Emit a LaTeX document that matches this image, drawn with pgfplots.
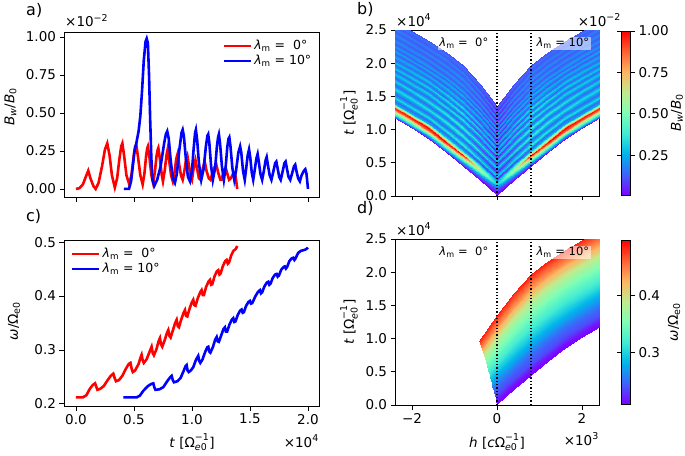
\documentclass[border=0pt]{standalone}
\usepackage{fontspec}
\setmainfont{DejaVu Sans}
\usepackage{amsmath}
\usepackage{pgfplots}
\usepackage{pgfplotstable}
\pgfplotsset{compat=1.18}

\newcommand\fTick{\fontsize{13.5}{16}\selectfont}
\newcommand\fLeg{\fontsize{12.5}{14}\selectfont}
\newcommand\fAnn{\fontsize{11.5}{13}\selectfont}
\newcommand\fPan{\fontsize{16}{18}\selectfont}
\newcommand\uinv{$\text{Ω}^{\text{−1}}_{\text{\itshape e}\text{0}}$}
\newcommand\lamm{\textit{λ}\textsubscript{m}}

\pgfplotsset{
  colormap={mplrainbow}{rgb=(0.5,0,1) rgb=(0.25,0.383,0.981) rgb=(0,0.707,0.924)
    rgb=(0.25,0.924,0.831) rgb=(0.5,1,0.707) rgb=(0.75,0.924,0.556)
    rgb=(1,0.707,0.383) rgb=(1,0.383,0.195) rgb=(1,0,0)},
  mpl/.style={scale only axis, tick align=outside, major tick length=4.5pt,
    tick style={black, line width=0.8pt}, axis line style={line width=0.8pt},
    ticklabel style={font=\fTick}, scaled ticks=false, tick pos=left},
  cbar/.style={at={(parent axis.north east)}, anchor=north west, xshift=14pt,
    width=9pt, height=164pt, yshift=-1pt, tick align=outside, major tick length=4.5pt,
    tick style={black, line width=0.8pt}, axis line style={line width=0.6pt},
    yticklabel style={font=\fTick}},
}

% ray paths: s = |h| (x10^3), t (x10^4), a = B_w/B_0 (x10^-2), w = omega/Omega_e0
\pgfplotstableread[row sep=\\]{
s t a w\\
0 0.02 0.01 0.210\\ 0.4 0.24 0.01 0.210\\ 0.8 0.45 0.02 0.210\\ 1.2 0.66 0.02 0.210\\ 1.6 0.86 0.02 0.210\\ 2.0 1.02 0.02 0.210\\ 2.4 1.17 0.02 0.210\\
0 0.06 0.05 0.212\\ 0.4 0.28 0.12 0.212\\ 0.8 0.50 0.20 0.212\\ 1.2 0.70 0.25 0.212\\ 1.6 0.90 0.27 0.212\\ 2.0 1.06 0.28 0.212\\ 2.4 1.21 0.28 0.212\\
0 0.10 0.12 0.220\\ 0.4 0.33 0.30 0.220\\ 0.8 0.54 0.45 0.220\\ 1.2 0.75 0.55 0.220\\ 1.6 0.95 0.58 0.220\\ 2.0 1.11 0.60 0.220\\ 2.4 1.26 0.60 0.220\\
0 0.13 0.20 0.228\\ 0.4 0.36 0.45 0.228\\ 0.8 0.58 0.75 0.228\\ 1.2 0.78 0.85 0.228\\ 1.6 0.98 0.88 0.228\\ 2.0 1.14 0.88 0.228\\ 2.4 1.29 0.87 0.228\\
0 0.16 0.30 0.235\\ 0.4 0.39 0.60 0.235\\ 0.8 0.61 0.98 0.235\\ 1.2 0.82 1.00 0.235\\ 1.6 1.02 1.00 0.235\\ 2.0 1.17 0.99 0.235\\ 2.4 1.32 0.97 0.235\\
0 0.19 0.30 0.239\\ 0.4 0.42 0.50 0.239\\ 0.8 0.64 0.70 0.239\\ 1.2 0.85 0.65 0.239\\ 1.6 1.05 0.62 0.239\\ 2.0 1.21 0.60 0.239\\ 2.4 1.36 0.58 0.239\\
0 0.22 0.25 0.242\\ 0.4 0.46 0.30 0.242\\ 0.8 0.68 0.30 0.242\\ 1.2 0.89 0.28 0.242\\ 1.6 1.08 0.26 0.242\\ 2.0 1.24 0.25 0.242\\ 2.4 1.39 0.25 0.242\\
0 0.26 0.06 0.246\\ 0.4 0.50 0.10 0.246\\ 0.8 0.72 0.14 0.246\\ 1.2 0.93 0.14 0.246\\ 1.6 1.13 0.14 0.246\\ 2.0 1.28 0.14 0.246\\ 2.4 1.43 0.14 0.246\\
0 0.30 0.30 0.252\\ 0.4 0.54 0.34 0.252\\ 0.8 0.77 0.38 0.252\\ 1.2 0.98 0.36 0.252\\ 1.6 1.17 0.35 0.252\\ 2.0 1.33 0.34 0.252\\ 2.4 1.48 0.33 0.252\\
0 0.36 0.05 0.263\\ 0.4 0.61 0.10 0.263\\ 0.8 0.84 0.14 0.263\\ 1.2 1.04 0.14 0.263\\ 1.6 1.24 0.14 0.263\\ 2.0 1.39 0.14 0.263\\ 2.4 1.54 0.14 0.263\\
0 0.42 0.30 0.275\\ 0.4 0.67 0.35 0.275\\ 0.8 0.90 0.39 0.275\\ 1.2 1.11 0.37 0.275\\ 1.6 1.30 0.35 0.275\\ 2.0 1.46 0.34 0.275\\ 2.4 1.61 0.33 0.275\\
0 0.475 0.05 0.285\\ 0.4 0.73 0.10 0.285\\ 0.8 0.97 0.14 0.285\\ 1.2 1.17 0.14 0.285\\ 1.6 1.36 0.14 0.285\\ 2.0 1.52 0.14 0.285\\ 2.4 1.67 0.14 0.285\\
0 0.53 0.29 0.296\\ 0.4 0.79 0.34 0.296\\ 0.8 1.03 0.39 0.296\\ 1.2 1.24 0.37 0.296\\ 1.6 1.42 0.35 0.296\\ 2.0 1.58 0.33 0.296\\ 2.4 1.73 0.32 0.296\\
0 0.58 0.05 0.306\\ 0.4 0.85 0.10 0.306\\ 0.8 1.09 0.14 0.306\\ 1.2 1.29 0.14 0.306\\ 1.6 1.48 0.14 0.306\\ 2.0 1.63 0.14 0.306\\ 2.4 1.78 0.14 0.306\\
0 0.625 0.28 0.315\\ 0.4 0.90 0.32 0.315\\ 0.8 1.14 0.36 0.315\\ 1.2 1.34 0.34 0.315\\ 1.6 1.53 0.32 0.315\\ 2.0 1.68 0.31 0.315\\ 2.4 1.83 0.30 0.315\\
0 0.67 0.05 0.323\\ 0.4 0.94 0.10 0.323\\ 0.8 1.19 0.14 0.323\\ 1.2 1.39 0.14 0.323\\ 1.6 1.58 0.14 0.323\\ 2.0 1.73 0.14 0.323\\ 2.4 1.88 0.14 0.323\\
0 0.71 0.27 0.330\\ 0.4 0.99 0.31 0.330\\ 0.8 1.23 0.36 0.330\\ 1.2 1.44 0.34 0.330\\ 1.6 1.62 0.32 0.330\\ 2.0 1.78 0.31 0.330\\ 2.4 1.92 0.30 0.330\\
0 0.75 0.05 0.337\\ 0.4 1.03 0.10 0.337\\ 0.8 1.28 0.14 0.337\\ 1.2 1.48 0.14 0.337\\ 1.6 1.67 0.14 0.337\\ 2.0 1.82 0.14 0.337\\ 2.4 1.97 0.14 0.337\\
0 0.79 0.26 0.344\\ 0.4 1.07 0.30 0.344\\ 0.8 1.32 0.34 0.344\\ 1.2 1.53 0.32 0.344\\ 1.6 1.71 0.30 0.344\\ 2.0 1.87 0.29 0.344\\ 2.4 2.01 0.28 0.344\\
0 0.83 0.05 0.350\\ 0.4 1.12 0.10 0.350\\ 0.8 1.37 0.14 0.350\\ 1.2 1.57 0.14 0.350\\ 1.6 1.76 0.14 0.350\\ 2.0 1.91 0.14 0.350\\ 2.4 2.05 0.14 0.350\\
0 0.875 0.23 0.360\\ 0.4 1.17 0.26 0.360\\ 0.8 1.42 0.28 0.360\\ 1.2 1.62 0.27 0.360\\ 1.6 1.80 0.26 0.360\\ 2.0 1.96 0.25 0.360\\ 2.4 2.10 0.24 0.360\\
0 0.91 0.06 0.367\\ 0.4 1.20 0.10 0.367\\ 0.8 1.46 0.12 0.367\\ 1.2 1.66 0.12 0.367\\ 1.6 1.84 0.12 0.367\\ 2.0 2.00 0.12 0.367\\ 2.4 2.14 0.12 0.367\\
0 0.95 0.25 0.376\\ 0.4 1.25 0.26 0.376\\ 0.8 1.51 0.27 0.376\\ 1.2 1.71 0.26 0.376\\ 1.6 1.89 0.25 0.376\\ 2.0 2.04 0.24 0.376\\ 2.4 2.18 0.24 0.376\\
0 0.98 0.06 0.382\\ 0.4 1.28 0.10 0.382\\ 0.8 1.54 0.12 0.382\\ 1.2 1.74 0.12 0.382\\ 1.6 1.92 0.12 0.382\\ 2.0 2.07 0.12 0.382\\ 2.4 2.22 0.12 0.382\\
0 1.01 0.22 0.389\\ 0.4 1.31 0.23 0.389\\ 0.8 1.57 0.24 0.389\\ 1.2 1.78 0.23 0.389\\ 1.6 1.95 0.23 0.389\\ 2.0 2.11 0.22 0.389\\ 2.4 2.25 0.22 0.389\\
0 1.05 0.06 0.401\\ 0.4 1.36 0.10 0.401\\ 0.8 1.62 0.12 0.401\\ 1.2 1.82 0.12 0.401\\ 1.6 2.00 0.12 0.401\\ 2.0 2.15 0.12 0.401\\ 2.4 2.29 0.12 0.401\\
0 1.09 0.21 0.413\\ 0.4 1.40 0.21 0.413\\ 0.8 1.66 0.21 0.413\\ 1.2 1.87 0.21 0.413\\ 1.6 2.04 0.20 0.413\\ 2.0 2.19 0.20 0.413\\ 2.4 2.34 0.20 0.413\\
0 1.13 0.06 0.424\\ 0.4 1.44 0.10 0.424\\ 0.8 1.71 0.12 0.424\\ 1.2 1.91 0.12 0.424\\ 1.6 2.09 0.12 0.424\\ 2.0 2.24 0.12 0.424\\ 2.4 2.38 0.12 0.424\\
0 1.17 0.19 0.436\\ 0.4 1.48 0.20 0.436\\ 0.8 1.75 0.21 0.436\\ 1.2 1.96 0.20 0.436\\ 1.6 2.13 0.20 0.436\\ 2.0 2.28 0.19 0.436\\ 2.4 2.42 0.19 0.436\\
0 1.21 0.06 0.447\\ 0.4 1.53 0.10 0.447\\ 0.8 1.80 0.12 0.447\\ 1.2 2.00 0.12 0.447\\ 1.6 2.17 0.12 0.447\\ 2.0 2.33 0.12 0.447\\ 2.4 2.47 0.12 0.447\\
0 1.25 0.17 0.457\\ 0.4 1.57 0.18 0.457\\ 0.8 1.85 0.19 0.457\\ 1.2 2.05 0.18 0.457\\ 1.6 2.22 0.18 0.457\\ 2.0 2.37 0.18 0.457\\ 2.4 2.51 0.18 0.457\\
0 1.285 0.06 0.466\\ 0.4 1.61 0.10 0.466\\ 0.8 1.89 0.12 0.466\\ 1.2 2.09 0.12 0.466\\ 1.6 2.26 0.12 0.466\\ 2.0 2.41 0.12 0.466\\ 2.4 2.55 0.12 0.466\\
0 1.32 0.14 0.475\\ 0.4 1.65 0.15 0.475\\ 0.8 1.93 0.16 0.475\\ 1.2 2.13 0.16 0.475\\ 1.6 2.30 0.16 0.475\\ 2.0 2.45 0.16 0.475\\ 2.4 2.59 0.16 0.475\\
0 1.36 0.07 0.486\\ 0.4 1.69 0.10 0.486\\ 0.8 1.97 0.11 0.486\\ 1.2 2.17 0.11 0.486\\ 1.6 2.34 0.11 0.486\\ 2.0 2.49 0.11 0.486\\ 2.4 2.63 0.11 0.486\\
}\rays

% incoming part of each ray (h < 0) for panel d
\pgfplotstableread[row sep=\\]{
h t w\\
0 0.02 0.210\\ 0 0.02 0.210\\
-0.013 0.053 0.212\\ 0 0.06 0.212\\
-0.025 0.086 0.220\\ 0 0.10 0.220\\
-0.034 0.110 0.228\\ 0 0.13 0.228\\
-0.044 0.134 0.235\\ 0 0.16 0.235\\
-0.053 0.158 0.239\\ 0 0.19 0.239\\
-0.063 0.182 0.242\\ 0 0.22 0.242\\
-0.075 0.214 0.246\\ 0 0.26 0.246\\
-0.088 0.245 0.252\\ 0 0.30 0.252\\
-0.107 0.291 0.263\\ 0 0.36 0.263\\
-0.126 0.337 0.275\\ 0 0.42 0.275\\
-0.143 0.378 0.285\\ 0 0.475 0.285\\
-0.160 0.419 0.296\\ 0 0.53 0.296\\
-0.176 0.455 0.306\\ 0 0.58 0.306\\
-0.189 0.488 0.315\\ 0 0.625 0.315\\
-0.204 0.520 0.323\\ 0 0.67 0.323\\
-0.216 0.549 0.330\\ 0 0.71 0.330\\
-0.229 0.577 0.337\\ 0 0.75 0.337\\
-0.242 0.604 0.344\\ 0 0.79 0.344\\
-0.254 0.632 0.350\\ 0 0.83 0.350\\
-0.268 0.663 0.360\\ 0 0.875 0.360\\
-0.279 0.686 0.367\\ 0 0.91 0.367\\
-0.291 0.713 0.376\\ 0 0.95 0.376\\
-0.301 0.733 0.382\\ 0 0.98 0.382\\
-0.310 0.752 0.389\\ 0 1.01 0.389\\
-0.323 0.778 0.401\\ 0 1.05 0.401\\
-0.336 0.803 0.413\\ 0 1.09 0.413\\
-0.348 0.829 0.424\\ 0 1.13 0.424\\
-0.360 0.854 0.436\\ 0 1.17 0.436\\
-0.373 0.879 0.447\\ 0 1.21 0.447\\
-0.386 0.903 0.457\\ 0 1.25 0.457\\
-0.396 0.925 0.466\\ 0 1.285 0.466\\
-0.407 0.946 0.475\\ 0 1.32 0.475\\
-0.420 0.969 0.486\\ 0 1.36 0.486\\
}\incoming

\begin{document}
\begin{tikzpicture}[x=1pt,y=1pt]
\useasboundingbox (0,0) rectangle (685,-455);
\coordinate (PA) at (64,-32);
\coordinate (PC) at (64,-240);
\coordinate (PB) at (395,-30);
\coordinate (PD) at (395,-239);

% ---------- a) ----------
\begin{axis}[mpl, at={(PA)}, anchor=north west, width=255pt, height=165pt,
  xmin=-0.103, xmax=2.095, ymin=-0.053, ymax=1.033,
  xtick={0,0.5,1,1.5,2}, xticklabels={},
  ytick={0,0.25,0.5,0.75,1}, yticklabels={0.00,0.25,0.50,0.75,1.00},
  legend style={draw=none, fill=none, at={(0.99,0.975)}, anchor=north east,
    font=\fLeg, row sep=0pt},
  legend cell align=left,
  legend image code/.code={\draw[#1, line width=2.6pt] (0pt,0pt) -- (27pt,0pt);}]
\addplot[red, line width=2.6pt] coordinates {
(0,0) (0.03,0.005) (0.06,0.03) (0.085,0.08) (0.106,0.12) (0.125,0.07) (0.15,0.02) (0.17,0.0)
(0.195,0.04) (0.225,0.15) (0.25,0.26) (0.27,0.30) (0.29,0.22) (0.31,0.09) (0.335,0.01)
(0.355,0.07) (0.375,0.2) (0.39,0.28) (0.40,0.30) (0.415,0.22) (0.435,0.09) (0.46,0.03)
(0.48,0.1) (0.5,0.23) (0.51,0.28) (0.52,0.29) (0.535,0.21) (0.555,0.09) (0.575,0.03)
(0.59,0.1) (0.605,0.22) (0.615,0.27) (0.62,0.28) (0.635,0.2) (0.65,0.09) (0.665,0.04)
(0.68,0.11) (0.695,0.22) (0.705,0.26) (0.71,0.27) (0.725,0.19) (0.74,0.09) (0.75,0.05)
(0.765,0.12) (0.78,0.22) (0.79,0.26) (0.805,0.18) (0.82,0.09) (0.835,0.05)
(0.85,0.11) (0.865,0.2) (0.876,0.23) (0.89,0.16) (0.905,0.09) (0.92,0.06)
(0.935,0.12) (0.95,0.2) (0.96,0.22) (0.975,0.15) (0.99,0.08) (1.0,0.06)
(1.015,0.14) (1.03,0.19) (1.045,0.13) (1.06,0.07) (1.075,0.06)
(1.095,0.14) (1.11,0.18) (1.125,0.12) (1.145,0.07) (1.16,0.06)
(1.19,0.14) (1.21,0.16) (1.225,0.11) (1.245,0.06) (1.255,0.06)
(1.275,0.12) (1.29,0.14) (1.305,0.1) (1.32,0.06) (1.335,0.07)
(1.355,0.1) (1.37,0.105) (1.38,0.06) (1.39,0.0)};
\addlegendentry{\lamm\ =\ \ 0°}
\addplot[blue, line width=2.6pt] coordinates {
(0.414,0) (0.457,0) (0.475,0.05) (0.49,0.15) (0.505,0.25) (0.52,0.3) (0.54,0.38) (0.555,0.48)
(0.57,0.65) (0.585,0.85) (0.6,0.97) (0.61,0.99) (0.62,0.96) (0.63,0.75) (0.64,0.45) (0.65,0.2)
(0.66,0.06) (0.675,0.02)
(0.7,0.06) (0.73,0.15) (0.76,0.3) (0.775,0.36) (0.787,0.38) (0.8,0.33) (0.815,0.2) (0.835,0.07) (0.853,0.04)
(0.87,0.1) (0.89,0.25) (0.91,0.37) (0.92,0.39) (0.93,0.35) (0.945,0.22) (0.965,0.08) (0.983,0.05)
(1.0,0.12) (1.015,0.27) (1.027,0.37) (1.034,0.39) (1.045,0.32) (1.06,0.17) (1.08,0.06)
(1.1,0.13) (1.12,0.28) (1.133,0.35) (1.14,0.36) (1.15,0.3) (1.165,0.15) (1.18,0.06)
(1.2,0.14) (1.215,0.28) (1.225,0.34) (1.232,0.36) (1.242,0.3) (1.258,0.15) (1.275,0.06)
(1.29,0.14) (1.305,0.28) (1.315,0.33) (1.322,0.34) (1.332,0.28) (1.348,0.14) (1.365,0.06)
(1.38,0.12) (1.4,0.24) (1.415,0.28) (1.425,0.24) (1.44,0.12) (1.455,0.06)
(1.465,0.12) (1.48,0.22) (1.492,0.26) (1.502,0.21) (1.515,0.11) (1.528,0.06)
(1.54,0.12) (1.555,0.2) (1.566,0.23) (1.576,0.18) (1.59,0.1) (1.605,0.06)
(1.62,0.12) (1.635,0.19) (1.644,0.21) (1.654,0.16) (1.67,0.09) (1.685,0.06)
(1.7,0.11) (1.717,0.17) (1.727,0.18) (1.737,0.14) (1.752,0.08) (1.765,0.06)
(1.78,0.11) (1.797,0.17) (1.807,0.18) (1.817,0.14) (1.832,0.08) (1.847,0.06)
(1.862,0.1) (1.88,0.15) (1.89,0.16) (1.9,0.12) (1.915,0.07) (1.93,0.05)
(1.945,0.09) (1.965,0.12) (1.977,0.13) (1.987,0.1) (1.995,0.04) (2.0,0.0)};
\addlegendentry{\lamm\ = 10°}
\end{axis}

% ---------- c) ----------
\begin{axis}[mpl, at={(PC)}, anchor=north west, width=255pt, height=166pt,
  xmin=-0.103, xmax=2.095, ymin=0.196, ymax=0.504,
  xtick={0,0.5,1,1.5,2}, xticklabels={0.0,0.5,1.0,1.5,2.0},
  ytick={0.2,0.3,0.4,0.5}, yticklabels={0.2,0.3,0.4,0.5},
  legend style={draw=none, fill=none, at={(0.015,0.975)}, anchor=north west,
    font=\fLeg, row sep=0pt},
  legend cell align=left,
  legend image code/.code={\draw[#1, line width=2.6pt] (0pt,0pt) -- (27pt,0pt);}]
\addplot[red, line width=2.6pt] coordinates {
(0,0.212) (0.06,0.212) (0.09,0.216) (0.12,0.228) (0.145,0.235) (0.165,0.238) (0.175,0.232)
(0.185,0.226) (0.21,0.228) (0.24,0.233) (0.27,0.243) (0.3,0.252) (0.322,0.256) (0.335,0.247)
(0.345,0.242) (0.37,0.244) (0.4,0.252) (0.43,0.265) (0.455,0.274) (0.47,0.276) (0.48,0.265)
(0.49,0.259) (0.51,0.262) (0.54,0.274) (0.555,0.285) (0.566,0.291) (0.575,0.281) (0.585,0.276)
(0.61,0.283) (0.635,0.297) (0.652,0.306) (0.662,0.294) (0.672,0.29) (0.695,0.302) (0.712,0.316)
(0.724,0.322) (0.734,0.31) (0.744,0.306) (0.765,0.318) (0.785,0.332) (0.796,0.337) (0.806,0.326)
(0.816,0.323) (0.835,0.336) (0.855,0.35) (0.868,0.356) (0.878,0.344) (0.888,0.342) (0.905,0.355)
(0.928,0.369) (0.94,0.374) (0.95,0.363) (0.96,0.362) (0.977,0.375) (0.998,0.388) (1.011,0.393)
(1.021,0.383) (1.031,0.382) (1.05,0.396) (1.071,0.407) (1.083,0.411) (1.093,0.402) (1.103,0.402)
(1.122,0.417) (1.143,0.427) (1.155,0.43) (1.165,0.421) (1.175,0.422) (1.195,0.437) (1.215,0.446)
(1.227,0.448) (1.237,0.44) (1.247,0.442) (1.267,0.456) (1.287,0.465) (1.299,0.467) (1.309,0.46)
(1.319,0.462) (1.339,0.476) (1.358,0.484) (1.37,0.486) (1.38,0.488) (1.39,0.493)};
\addlegendentry{\lamm\ =\ \ 0°}
\addplot[blue, line width=2.6pt] coordinates {
(0.408,0.212) (0.523,0.212) (0.55,0.215) (0.58,0.224) (0.62,0.233) (0.65,0.237) (0.667,0.238)
(0.675,0.231) (0.685,0.226) (0.72,0.227) (0.753,0.231) (0.79,0.243) (0.815,0.25) (0.825,0.252)
(0.835,0.244) (0.845,0.24) (0.875,0.242) (0.902,0.248) (0.93,0.262) (0.945,0.27) (0.954,0.272)
(0.962,0.262) (0.972,0.259) (0.99,0.262) (1.011,0.268) (1.035,0.282) (1.054,0.289) (1.062,0.28)
(1.072,0.276) (1.09,0.282) (1.115,0.297) (1.132,0.305) (1.141,0.306) (1.149,0.297) (1.159,0.295)
(1.18,0.305) (1.2,0.319) (1.213,0.324) (1.222,0.316) (1.232,0.315) (1.252,0.327) (1.272,0.339)
(1.284,0.342) (1.293,0.334) (1.303,0.334) (1.323,0.347) (1.343,0.356) (1.356,0.359) (1.365,0.352)
(1.375,0.353) (1.395,0.365) (1.415,0.373) (1.428,0.375) (1.437,0.369) (1.447,0.37) (1.467,0.382)
(1.487,0.389) (1.5,0.391) (1.509,0.386) (1.52,0.387) (1.545,0.399) (1.57,0.408) (1.586,0.411)
(1.595,0.405) (1.605,0.407) (1.625,0.418) (1.645,0.425) (1.658,0.4265) (1.667,0.421) (1.677,0.423)
(1.697,0.434) (1.717,0.44) (1.73,0.441) (1.739,0.436) (1.749,0.438) (1.77,0.449) (1.79,0.454)
(1.8,0.455) (1.81,0.451) (1.82,0.454) (1.84,0.465) (1.86,0.47) (1.873,0.471) (1.883,0.467)
(1.893,0.47) (1.915,0.48) (1.94,0.484) (1.96,0.485) (1.975,0.486) (1.99,0.488) (2.0,0.49)};
\addlegendentry{\lamm\ = 10°}
\end{axis}

% ---------- b) ----------
\begin{axis}[mpl, at={(PB)}, anchor=north west, width=204pt, height=166pt,
  xmin=-2.4, xmax=2.4, ymin=0, ymax=2.5,
  xtick={-2,0,2}, xticklabels={},
  ytick={0,0.5,1,1.5,2,2.5}, yticklabels={0.0,0.5,1.0,1.5,2.0,2.5},
  colormap name=mplrainbow, point meta min=0.01, point meta max=1.0,
  colorbar, colorbar style={cbar, ytick={0.25,0.5,0.75,1}, yticklabels={0.25,0.50,0.75,1.00}}]
\addplot[surf, shader=interp, point meta=explicit, mesh/rows=34, mesh/cols=7]
  table[x=s, y=t, meta=a] {\rays};
\addplot[surf, shader=interp, point meta=explicit, mesh/rows=34, mesh/cols=7]
  table[x expr=-\thisrow{s}, y=t, meta=a] {\rays};
\addplot[black, line width=1.3pt, dash pattern=on 1.3pt off 2pt] coordinates {(0,0) (0,2.5)};
\addplot[black, line width=1.3pt, dash pattern=on 1.3pt off 2pt] coordinates {(0.8,0) (0.8,2.5)};
\node[font=\fAnn, fill=white, fill opacity=0.55, text opacity=1, inner sep=1.5pt]
  at (axis cs:-0.78,2.3) {\lamm\ =\ \ 0°};
\node[font=\fAnn, fill=white, fill opacity=0.55, text opacity=1, inner sep=1.5pt]
  at (axis cs:1.55,2.3) {\lamm\ = 10°};
\end{axis}

% ---------- d) ----------
\begin{axis}[mpl, at={(PD)}, anchor=north west, width=204pt, height=166pt,
  xmin=-2.4, xmax=2.4, ymin=0, ymax=2.5,
  xtick={-2,0,2}, xticklabels={−2,0,2},
  ytick={0,0.5,1,1.5,2,2.5}, yticklabels={0.0,0.5,1.0,1.5,2.0,2.5},
  colormap name=mplrainbow, point meta min=0.21, point meta max=0.497,
  colorbar, colorbar style={cbar, ytick={0.3,0.4}, yticklabels={0.3,0.4}}]
\addplot[surf, shader=interp, point meta=explicit, mesh/rows=34, mesh/cols=7]
  table[x=s, y=t, meta=w] {\rays};
\addplot[surf, shader=interp, point meta=explicit, mesh/rows=34, mesh/cols=2]
  table[x=h, y=t, meta=w] {\incoming};
\addplot[black, line width=1.3pt, dash pattern=on 1.3pt off 2pt] coordinates {(0,0) (0,2.5)};
\addplot[black, line width=1.3pt, dash pattern=on 1.3pt off 2pt] coordinates {(0.8,0) (0.8,2.5)};
\node[font=\fAnn, fill=white, fill opacity=0.55, text opacity=1, inner sep=1.5pt]
  at (axis cs:-0.78,2.3) {\lamm\ =\ \ 0°};
\node[font=\fAnn, fill=white, fill opacity=0.55, text opacity=1, inner sep=1.5pt]
  at (axis cs:1.55,2.3) {\lamm\ = 10°};
\end{axis}

% ---------- labels ----------
\node[rotate=90, font=\fTick] at (10.5,-107) {\textit{B}\textsubscript{\textit{w}}/\textit{B}\textsubscript{0}};
\node[rotate=90, font=\fTick] at (14,-321) {\textit{ω}/Ω\textsubscript{e0}};
\node[rotate=90, font=\fTick] at (349,-113) {\textit{t} [\uinv]};
\node[rotate=90, font=\fTick] at (349,-322) {\textit{t} [\uinv]};
\node[rotate=90, font=\fTick] at (677,-113) {\textit{B}\textsubscript{\textit{w}}/\textit{B}\textsubscript{0}};
\node[rotate=90, font=\fTick] at (674,-322) {\textit{ω}/Ω\textsubscript{e0}};
\node[font=\fTick] at (192,-442) {\textit{t} [\uinv]};
\node[font=\fTick] at (497,-442) {\textit{h} [\textit{c}\uinv]};

\node[anchor=base west, font=\fTick, inner sep=0] at (65,-27) {×10\textsuperscript{−2}};
\node[anchor=base west, font=\fTick, inner sep=0] at (396,-26) {×10\textsuperscript{4}};
\node[anchor=base east, font=\fTick, inner sep=0] at (621,-26) {×10\textsuperscript{−2}};
\node[anchor=base west, font=\fTick, inner sep=0] at (396,-235) {×10\textsuperscript{4}};
\node[anchor=base east, font=\fTick, inner sep=0] at (319,-447) {×10\textsuperscript{4}};
\node[anchor=base east, font=\fTick, inner sep=0] at (599,-445) {×10\textsuperscript{3}};

\node[anchor=north west, font=\fPan, inner sep=0] at (26,-3) {a)};
\node[anchor=north west, font=\fPan, inner sep=0] at (357,-2) {b)};
\node[anchor=north west, font=\fPan, inner sep=0] at (26,-209) {c)};
\node[anchor=north west, font=\fPan, inner sep=0] at (357,-201) {d)};
\end{tikzpicture}
\end{document}
